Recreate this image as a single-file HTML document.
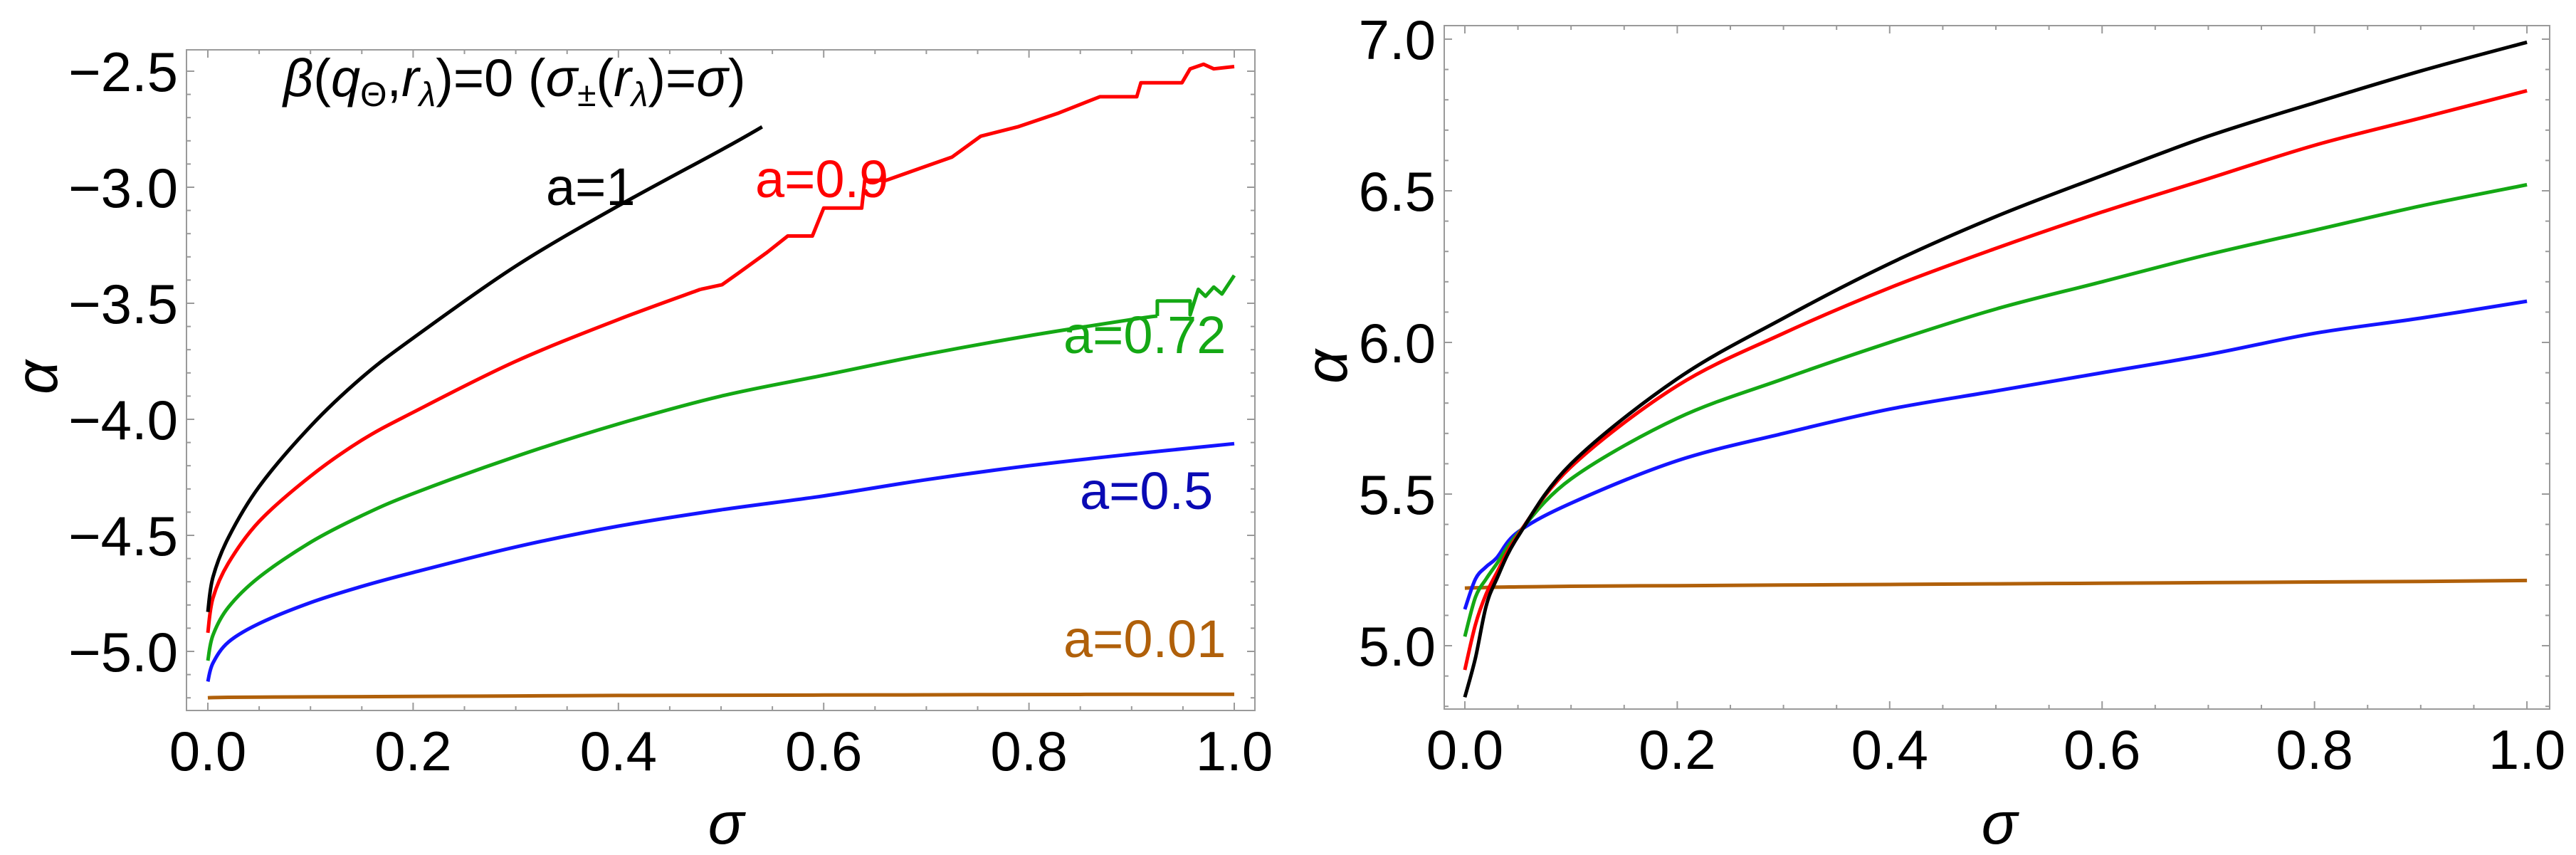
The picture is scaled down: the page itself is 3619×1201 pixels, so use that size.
<!DOCTYPE html>
<html><head><meta charset="utf-8"><style>
html,body{margin:0;padding:0;background:#fff}
svg{display:block}
text{font-family:"Liberation Sans","DejaVu Sans",sans-serif}
</style></head><body>
<svg id="fig" width="3619" height="1201" viewBox="0 0 3619 1201" xmlns="http://www.w3.org/2000/svg"></svg>
<script>
// ---- Left panel data ----
const sigL = [0,0.005,0.02,0.05,0.1,0.15,0.2,0.3,0.4,0.5,0.6,0.7,0.8,0.9,1.0];
const leftBlackS = [0,0.005,0.02,0.05,0.1,0.15,0.2,0.3,0.4,0.5,0.54];
const leftBlack = [-4.83,-4.68,-4.51,-4.29,-4.03,-3.82,-3.65,-3.34,-3.08,-2.84,-2.74];
const leftRedS = [0,0.005,0.02,0.05,0.1,0.15,0.2,0.3,0.4,0.48];
const leftRed = [-4.92,-4.77,-4.62,-4.44,-4.245,-4.09,-3.97,-3.75,-3.57,-3.44];
const leftRedJagS = [0.48,0.501,0.517,0.545,0.565,0.589,0.6,0.613,0.637,0.64,0.661,0.693,0.725,0.753,0.789,0.829,0.869,0.905,0.909,0.949,0.957,0.97,0.98,1.0];
const leftRedJag = [-3.44,-3.42,-3.37,-3.28,-3.21,-3.21,-3.09,-3.09,-3.09,-2.97,-2.97,-2.92,-2.87,-2.78,-2.74,-2.68,-2.61,-2.61,-2.55,-2.55,-2.49,-2.47,-2.49,-2.48];
const leftGreenS = [0,0.005,0.02,0.05,0.1,0.15,0.2,0.3,0.4,0.5,0.6,0.7,0.8,0.9,0.925];
const leftGreen = [-5.04,-4.93,-4.81,-4.68,-4.53,-4.415,-4.32,-4.16,-4.02,-3.90,-3.81,-3.72,-3.64,-3.57,-3.555];
const leftGreenJagS = [0.925,0.925,0.957,0.957,0.965,0.972,0.98,0.988,1.0];
const leftGreenJag = [-3.555,-3.49,-3.49,-3.55,-3.44,-3.47,-3.43,-3.46,-3.38];
const leftBlue = [-5.13,-5.05,-4.96,-4.88,-4.79,-4.72,-4.66,-4.55,-4.46,-4.39,-4.33,-4.26,-4.20,-4.15,-4.105];
const leftBrown = [-5.20,-5.199,-5.198,-5.197,-5.196,-5.195,-5.194,-5.192,-5.19,-5.189,-5.188,-5.187,-5.186,-5.185,-5.185];
const leftXTicks = ["0.0","0.2","0.4","0.6","0.8","1.0"];
const leftYTicks = ["−2.5","−3.0","−3.5","−4.0","−4.5","−5.0"];
const leftYTickVals = [-2.5,-3.0,-3.5,-4.0,-4.5,-5.0];
// ---- Right panel data ----
const sigR = [0,0.01,0.02,0.03,0.05,0.1,0.2,0.3,0.4,0.5,0.6,0.7,0.8,0.9,1.0];
const rightBlack = [4.83,4.96,5.13,5.22,5.36,5.60,5.88,6.08,6.26,6.415,6.55,6.68,6.79,6.895,6.99];
const rightRed = [4.92,5.07,5.17,5.24,5.365,5.59,5.857,6.03,6.18,6.31,6.43,6.54,6.65,6.74,6.83];
const rightGreen = [5.03,5.16,5.22,5.27,5.37,5.55,5.75,5.88,6.0,6.11,6.2,6.29,6.37,6.45,6.52];
const rightBlue = [5.12,5.22,5.26,5.29,5.375,5.47,5.61,5.70,5.78,5.84,5.90,5.96,6.03,6.08,6.136];
const rightBrown = [5.19,5.191,5.192,5.193,5.194,5.196,5.198,5.2,5.202,5.204,5.206,5.208,5.21,5.212,5.215];
const rightXTicks = ["0.0","0.2","0.4","0.6","0.8","1.0"];
const rightYTicks = ["7.0","6.5","6.0","5.5","5.0"];
const rightYTickVals = [7.0,6.5,6.0,5.5,5.0];

const NS = "http://www.w3.org/2000/svg";
const svg = document.getElementById('fig');
function mk(tag, attrs, parent){const e=document.createElementNS(NS,tag);for(const k in attrs)e.setAttribute(k,attrs[k]);(parent||svg).appendChild(e);return e;}

function smoothPath(pts){
  let d='M'+pts[0][0].toFixed(1)+','+pts[0][1].toFixed(1);
  for(let i=0;i<pts.length-1;i++){
    const p0=pts[Math.max(i-1,0)],p1=pts[i],p2=pts[i+1],p3=pts[Math.min(i+2,pts.length-1)];
    const c1=[p1[0]+(p2[0]-p0[0])/6,p1[1]+(p2[1]-p0[1])/6];
    const c2=[p2[0]-(p3[0]-p1[0])/6,p2[1]-(p3[1]-p1[1])/6];
    d+=` C${c1[0].toFixed(1)},${c1[1].toFixed(1)} ${c2[0].toFixed(1)},${c2[1].toFixed(1)} ${p2[0].toFixed(1)},${p2[1].toFixed(1)}`;
  }
  return d;
}

function panel(p){
  const g = mk('g',{});
  
  
  const sx = v => p.x0 + (v - p.xmin)/(p.xmax - p.xmin)*(p.x1 - p.x0);
  const sy = v => p.y1 - (v - p.ymin)/(p.ymax - p.ymin)*(p.y1 - p.y0);
  const fr = mk('rect',{x:p.x0,y:p.y0,width:p.x1-p.x0,height:p.y1-p.y0,fill:'none',stroke:'#9a9a9a','stroke-width':2},g);
  
  
  for(let i=0;i<=20;i++){
    const v=i*0.05, X=sx(v), major=(i%4===0), L=major?11:6;
    const t1=mk('line',{x1:X,x2:X,y1:p.y1,y2:p.y1-L,stroke:'#9a9a9a','stroke-width':2},g);
    
    
    mk('line',{x1:X,x2:X,y1:p.y0,y2:p.y0+L,stroke:'#9a9a9a','stroke-width':2},g);
  }
  p.xTicks.forEach((lab,i)=>{
    const t=mk('text',{x:sx(i*0.2),y:p.y1+84,'font-size':78,'text-anchor':'middle',fill:'#000'},g);
    t.textContent=lab;
    
    
  });
  const ystart=Math.ceil(p.ymin*10-1e-9), yend=Math.floor(p.ymax*10+1e-9);
  for(let k=ystart;k<=yend;k++){
    const v=k/10, Y=sy(v), major=(Math.abs(k%5)===0), L=major?11:6;
    const t1=mk('line',{x1:p.x0,x2:p.x0+L,y1:Y,y2:Y,stroke:'#9a9a9a','stroke-width':2},g);
    
    
    mk('line',{x1:p.x1,x2:p.x1-L,y1:Y,y2:Y,stroke:'#9a9a9a','stroke-width':2},g);
  }
  p.yTicks.forEach((lab,i)=>{
    const t=mk('text',{x:p.x0-12,y:sy(p.yTickVals[i])+28,'font-size':78,'text-anchor':'end',fill:'#000'},g);
    t.textContent=lab;
    
    
  });
  const xt=mk('text',{x:p.xTitleX,y:1185,'font-size':84,'font-style':'italic','text-anchor':'middle',fill:'#000'},g);
  xt.textContent='σ';
  
  
  const yt=mk('text',{x:p.yTitleX,y:p.yTitleY,'font-size':84,'font-style':'italic','text-anchor':'middle',fill:'#000',transform:`rotate(-90 ${p.yTitleX} ${p.yTitleY})`},g);
  yt.textContent='α';
  
  
  p.series.forEach(s=>{
    const pts=s.xs.map((x,i)=>[sx(x),sy(s.ys[i])]);
    const d=s.smooth?smoothPath(pts):pts.map((q,i)=>(i?'L':'M')+q[0].toFixed(1)+','+q[1].toFixed(1)).join(' ');
    const path=mk('path',{d:d,fill:'none',stroke:s.color,'stroke-width':5,'stroke-linejoin':'round','stroke-linecap':'butt'},g);
    
    
  });
  return g;
}

panel({name:'left-panel',x0:262,x1:1763,y0:70,y1:998,xmin:-0.0208,xmax:1.0201,ymin:-5.2546,ymax:-2.408,
  xTicks:leftXTicks,yTicks:leftYTicks,yTickVals:leftYTickVals,xTitleX:1020,yTitleX:80,yTitleY:530,
  series:[
    {name:'curve-a-0.01',xs:sigL,ys:leftBrown,color:'#b0600a',smooth:true},
    {name:'curve-a-0.5',xs:sigL,ys:leftBlue,color:'#1414ff',smooth:true},
    {name:'curve-a-0.72',xs:leftGreenS,ys:leftGreen,color:'#14a814',smooth:true},
    {name:'curve-a-0.72-jagged',xs:leftGreenJagS,ys:leftGreenJag,color:'#14a814',smooth:false},
    {name:'curve-a-0.9',xs:leftRedS,ys:leftRed,color:'#ff0000',smooth:true},
    {name:'curve-a-0.9-jagged',xs:leftRedJagS,ys:leftRedJag,color:'#ff0000',smooth:false},
    {name:'curve-a-1',xs:leftBlackS,ys:leftBlack,color:'#000000',smooth:true}
  ]});
panel({name:'right-panel',x0:2029,x1:3582,y0:36,y1:996,xmin:-0.0194,xmax:1.0214,ymin:4.7911,ymax:7.0446,
  xTicks:rightXTicks,yTicks:rightYTicks,yTickVals:rightYTickVals,xTitleX:2809,yTitleX:1892,yTitleY:515,
  series:[
    {name:'curve-a-0.01-right',xs:sigR,ys:rightBrown,color:'#b0600a',smooth:true},
    {name:'curve-a-0.5-right',xs:sigR,ys:rightBlue,color:'#1414ff',smooth:true},
    {name:'curve-a-0.72-right',xs:sigR,ys:rightGreen,color:'#14a814',smooth:true},
    {name:'curve-a-0.9-right',xs:sigR,ys:rightRed,color:'#ff0000',smooth:true},
    {name:'curve-a-1-right',xs:sigR,ys:rightBlack,color:'#000000',smooth:true}
  ]});
</script>
<svg style="position:absolute;left:0;top:0" width="3619" height="1201">
  <text x="398" y="135" font-size="74" font-family="Liberation Sans, sans-serif"><tspan font-style="italic">β</tspan>(<tspan font-style="italic">q</tspan><tspan font-size="48" dy="14">Θ</tspan><tspan dy="-14">,</tspan><tspan font-style="italic">r</tspan><tspan font-size="48" dy="14" font-style="italic">λ</tspan><tspan dy="-14">)=0 (</tspan><tspan font-style="italic">σ</tspan><tspan font-size="48" dy="14">±</tspan><tspan dy="-14">(</tspan><tspan font-style="italic">r</tspan><tspan font-size="48" dy="14" font-style="italic">λ</tspan><tspan dy="-14">)=</tspan><tspan font-style="italic">σ</tspan>)</text>
  <text x="767" y="288" font-size="74" fill="#000" font-family="Liberation Sans, sans-serif">a=1</text>
  <text x="1061" y="277" font-size="74" fill="#ff0000" font-family="Liberation Sans, sans-serif">a=0.9</text>
  <text x="1494" y="496" font-size="74" fill="#14a814" font-family="Liberation Sans, sans-serif">a=0.72</text>
  <text x="1517" y="715" font-size="74" fill="#0a0ab4" font-family="Liberation Sans, sans-serif">a=0.5</text>
  <text x="1494" y="923" font-size="74" fill="#b0600a" font-family="Liberation Sans, sans-serif">a=0.01</text>
</svg>
</body></html>
